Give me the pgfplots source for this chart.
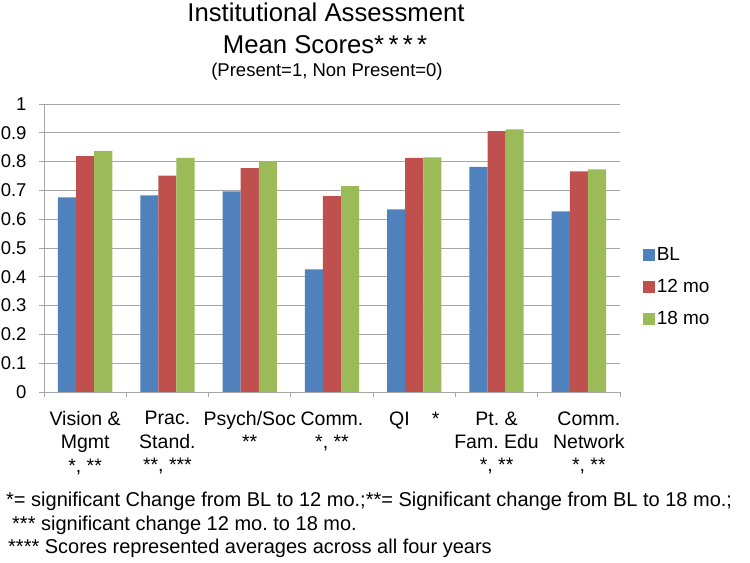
\documentclass[border=0pt]{standalone}
\usepackage{fontspec}
\setmainfont{Liberation Sans}
\usepackage{pgfplots}
\pgfplotsset{compat=1.18}
\definecolor{cBL}{HTML}{4F81BD}
\definecolor{cTw}{HTML}{C0504D}
\definecolor{cEi}{HTML}{9BBB59}
\definecolor{gridc}{HTML}{A6A6A6}
\frenchspacing
\begin{document}
\frenchspacing
\begin{tikzpicture}
\useasboundingbox (0,0) rectangle (750bp,563bp);
\begin{axis}[
  at={(44bp,171bp)}, anchor=south west,
  scale only axis, width=576bp, height=288bp,
  xmin=-0.5, xmax=6.5, ymin=0, ymax=1,
  ybar=0pt, bar width=0.22,
  axis x line*=bottom, axis y line*=left,
  axis line style={gridc, line width=0.8bp},
  ymajorgrids, grid style={gridc, line width=0.8bp},
  ytick={0,0.1,0.2,0.3,0.4,0.5,0.6,0.7,0.8,0.9,1},
  yticklabels={0,0.1,0.2,0.3,0.4,0.5,0.6,0.7,0.8,0.9,1},
  xtick={0,1,2,3,4,5,6},
  xticklabels={{Vision \&\\Mgmt\\*, **},{Prac.\\Stand.\\**, ***},{Psych/Soc\\**},{Comm.\\*, **},{QI\hspace{22bp}*},{Pt. \&\\Fam. Edu\\*, **},{\hspace*{20bp}Comm.\\\hspace*{20bp}Network\\\hspace*{20bp}*, **}},
  minor xtick={-0.5,0.5,1.5,2.5,3.5,4.5,5.5,6.5},
  major x tick style={draw=none},
  minor x tick style={draw=gridc, line width=0.8bp},
  y tick style={draw=gridc, line width=0.8bp},
  tick align=outside,
  major tick length=5bp, minor tick length=5bp,
  /pgf/number format/assume math mode=true,
  yticklabel style={font=\fontsize{18.5bp}{22bp}\selectfont, xshift=-9bp},
  xticklabel style={font=\fontsize{19.5bp}{23.3bp}\selectfont\frenchspacing, align=center, yshift=-11bp},
  legend style={draw=none, fill=none, at={(1.034,0.365)}, anchor=west,
    font=\fontsize{19bp}{22bp}\selectfont, row sep=13bp,
    /tikz/every even column/.append style={column sep=5bp}},
  legend cell align=left,
  legend image code/.code={\fill[#1] (0bp,-6bp) rectangle (12bp,6bp);},
]
\addplot[fill=cBL, draw=none] coordinates {(0,0.676) (1,0.683) (2,0.697) (3,0.426) (4,0.634) (5,0.782) (6,0.627)};
\addplot[fill=cTw, draw=none] coordinates {(0,0.819) (1,0.751) (2,0.777) (3,0.680) (4,0.8125) (5,0.906) (6,0.766)};
\addplot[fill=cEi, draw=none] coordinates {(0,0.837) (1,0.8125) (2,0.802) (3,0.715) (4,0.815) (5,0.912) (6,0.773)};
\legend{BL,12 mo,18 mo}
\end{axis}
\node[anchor=base, inner sep=0pt, font=\fontsize{25.7bp}{30bp}\selectfont] at (326bp,541bp) {Institutional Assessment};
\node[anchor=base, inner sep=0pt, font=\fontsize{25.7bp}{30bp}\selectfont] at (325bp,509bp) {Mean Scores*\,*\,*\,*};
\node[anchor=base, inner sep=0pt, font=\fontsize{18.5bp}{22bp}\selectfont] at (327bp,486bp) {(Present=1, Non Present=0)};
\node[anchor=base west, inner sep=0pt, font=\fontsize{20bp}{23bp}\selectfont] at (6bp,56bp) {*= significant Change from BL to 12 mo.;**= Significant change from BL to 18 mo.;};
\node[anchor=base west, inner sep=0pt, font=\fontsize{20bp}{23bp}\selectfont] at (12bp,33bp) {*** significant change 12 mo. to 18 mo.};
\node[anchor=base west, inner sep=0pt, font=\fontsize{20bp}{23bp}\selectfont] at (8bp,10bp) {**** Scores represented averages across all four years};
\end{tikzpicture}
\end{document}
